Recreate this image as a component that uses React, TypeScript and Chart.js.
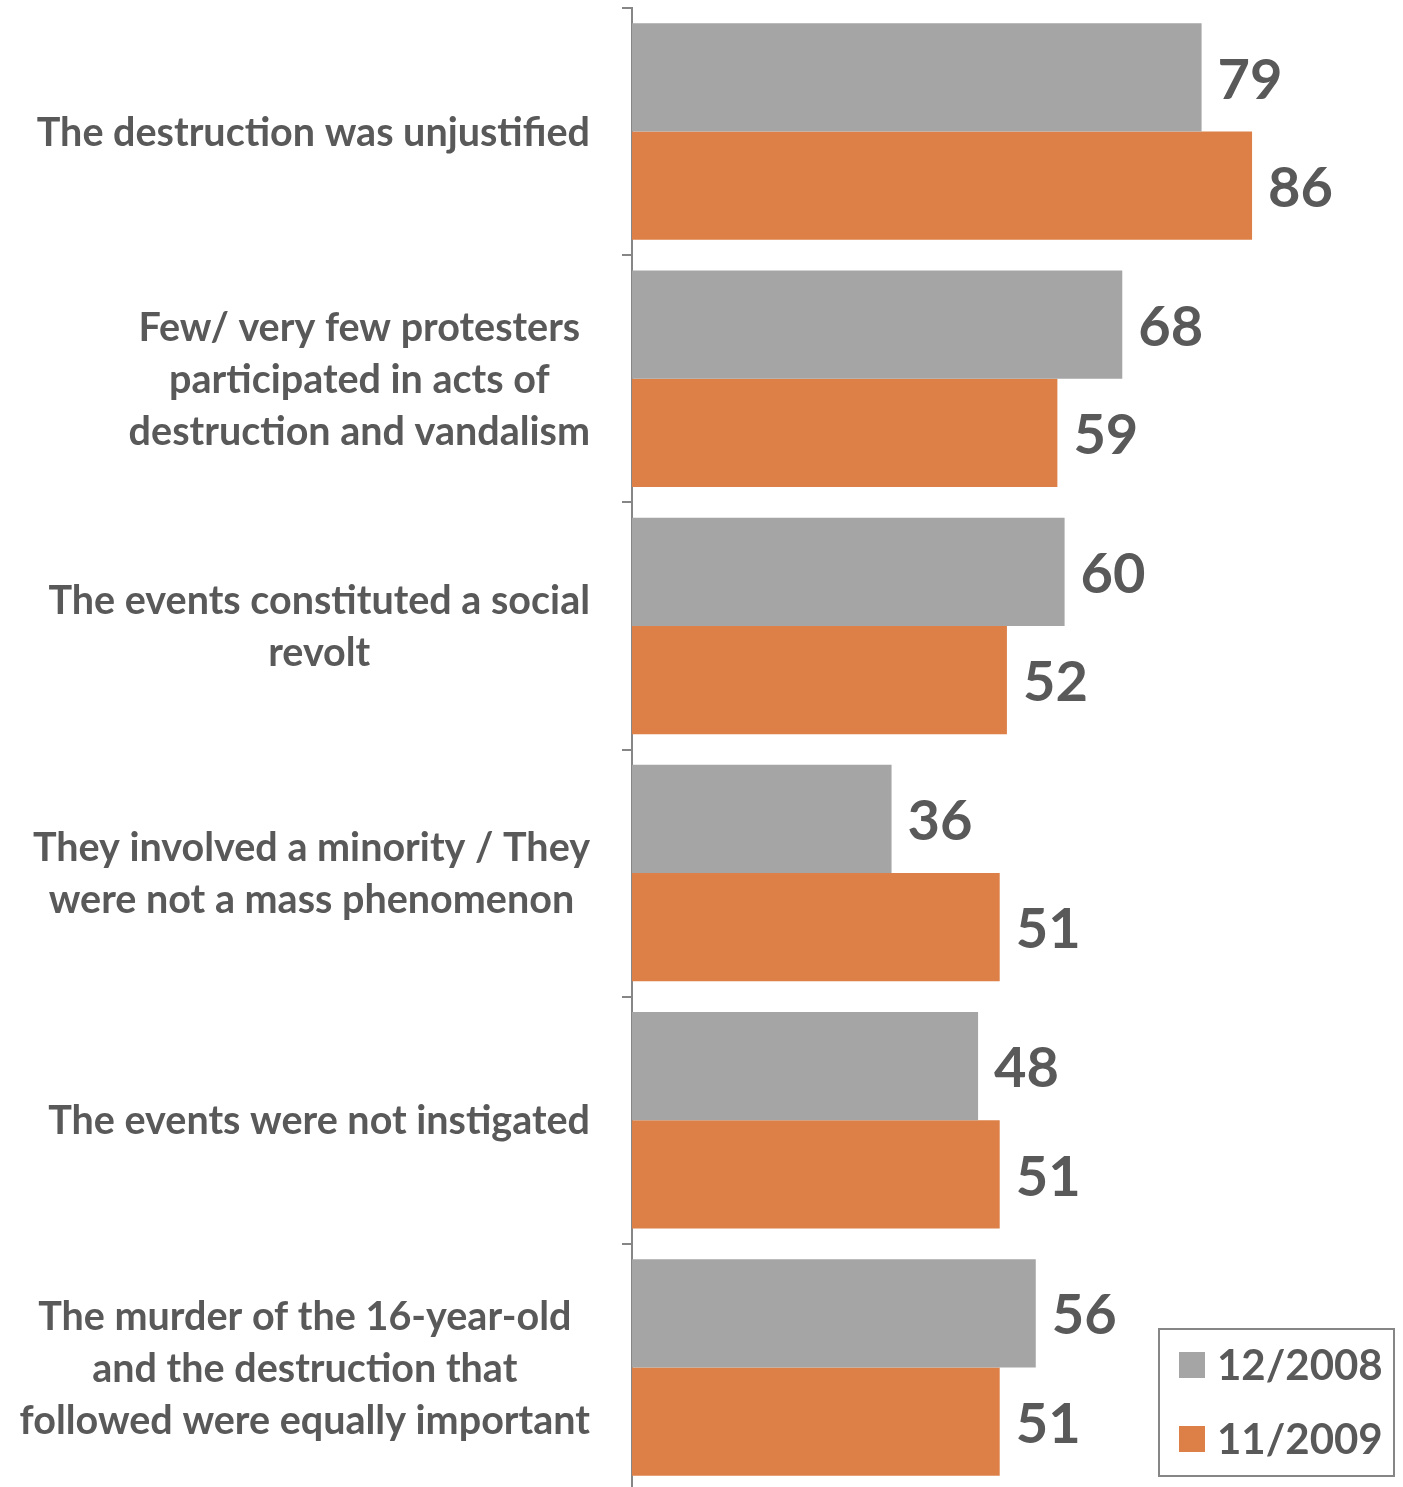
import React, { useEffect, useRef } from "react";
import { Chart, registerables } from "chart.js";

Chart.register(...registerables);

const categories: string[][] = [
  ["The destruction was unjustified"],
  ["Few/ very few protesters", "participated in acts of", "destruction and vandalism"],
  ["The events constituted a social", "revolt"],
  ["They involved a minority / They", "were not a mass phenomenon"],
  ["The events were not instigated"],
  ["The murder of the 16-year-old", "and the destruction that", "followed were equally important"],
];
const series2008: number[] = [79, 68, 60, 36, 48, 56];
const series2009: number[] = [86, 59, 52, 51, 51, 51];
const seriesLabels: string[] = ["12/2008", "11/2009"];

const GRAY = "#A5A5A5";
const ORANGE = "#DC8048";
const TEXT = "#595959";
const FONT = "Lato, 'Open Sans', sans-serif";

const labelsPlugin = {
  id: "customLabels",
  afterDraw(chart: any) {
    const ctx = chart.ctx as CanvasRenderingContext2D;
    const yScale = chart.scales.y;
    ctx.save();
    // category labels
    const catSize = 39.5;
    const lineH = 52;
    ctx.font = `bold ${catSize}px ${FONT}`;
    ctx.fillStyle = TEXT;
    ctx.textAlign = "center";
    ctx.textBaseline = "alphabetic";
    const rightEdge = 590;
    categories.forEach((lines, i) => {
      const cy = yScale.getPixelForValue(i);
      const maxW = Math.max(...lines.map((l) => ctx.measureText(l).width));
      const cx = rightEdge - maxW / 2;
      const n = lines.length;
      lines.forEach((line, j) => {
        const ly = cy + (j - (n - 1) / 2) * lineH;
        ctx.fillText(line, cx, ly + catSize * 0.36);
      });
    });
    // value labels
    const valSize = 56;
    ctx.font = `bold ${valSize}px ${FONT}`;
    ctx.textAlign = "left";
    chart.data.datasets.forEach((ds: any, di: number) => {
      const meta = chart.getDatasetMeta(di);
      meta.data.forEach((el: any, k: number) => {
        ctx.fillText(String(ds.data[k]), el.x + 16, el.y + valSize * 0.36 + 1);
      });
    });
    // legend
    const bx = 1159, by = 1329, bw = 235, bh = 147;
    ctx.strokeStyle = "#868686";
    ctx.lineWidth = 2;
    ctx.strokeRect(bx, by, bw, bh);
    const legSize = 42;
    ctx.font = `bold ${legSize}px ${FONT}`;
    chart.data.datasets.forEach((ds: any, di: number) => {
      const cy = 1365 + di * 74;
      ctx.fillStyle = ds.backgroundColor;
      ctx.fillRect(1179, cy - 13, 26, 26);
      ctx.fillStyle = TEXT;
      ctx.fillText(ds.label, 1217, cy + legSize * 0.36);
    });
    ctx.restore();
  },
};

export default function App() {
  const ref = useRef<HTMLCanvasElement | null>(null);
  useEffect(() => {
    if (!ref.current) return;
    const chart = new Chart(ref.current, {
      type: "bar",
      data: {
        labels: categories.map((c) => c.join(" ")),
        datasets: [
          {
            label: seriesLabels[0],
            data: series2008,
            backgroundColor: GRAY,
            borderWidth: 0,
            categoryPercentage: 0.876,
            barPercentage: 1,
          },
          {
            label: seriesLabels[1],
            data: series2009,
            backgroundColor: ORANGE,
            borderWidth: 0,
            categoryPercentage: 0.876,
            barPercentage: 1,
          },
        ],
      },
      options: {
        indexAxis: "y",
        responsive: false,
        animation: false,
        layout: { padding: { left: 622, top: 8, right: 50, bottom: 0 } },
        plugins: {
          legend: { display: false },
          tooltip: { enabled: false },
        },
        scales: {
          x: { display: false, min: 0, max: 100 },
          y: {
            grid: {
              offset: true,
              drawOnChartArea: false,
              drawTicks: true,
              tickLength: 10,
              color: "#868686",
              lineWidth: 2,
            },
            border: { display: true, color: "#868686", width: 2 },
            ticks: { display: false },
          },
        },
      },
      plugins: [labelsPlugin],
    });
    return () => chart.destroy();
  }, []);
  return (
    <div style={{ position: "absolute", left: 0, top: 0, width: 1403, height: 1487, overflow: "hidden", background: "#fff" }}>
      <canvas ref={ref} width={1403} height={1491} style={{ display: "block" }} />
    </div>
  );
}
